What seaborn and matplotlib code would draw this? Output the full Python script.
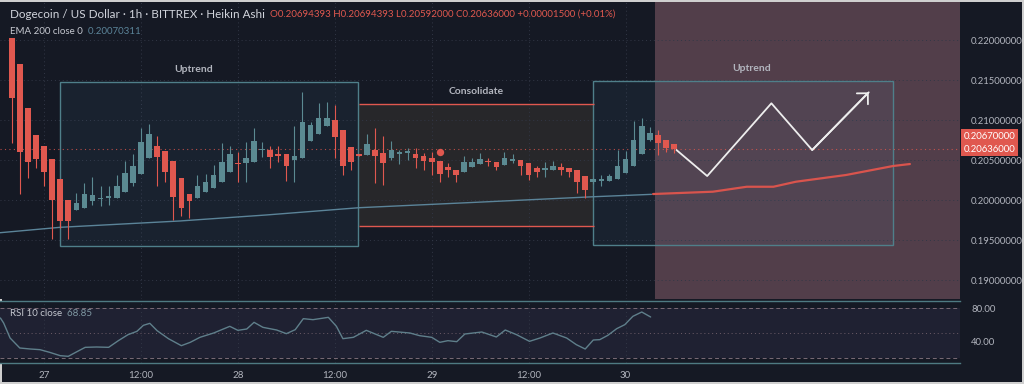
import numpy as np
import pandas as pd
import matplotlib
matplotlib.use("Agg")
import matplotlib.pyplot as plt
import matplotlib.transforms as mtransforms
from matplotlib.patches import Rectangle
import seaborn as sns

# --- data: one Heikin Ashi candle per hour, index 0 = 26th 20:00 ---
opens = [0.2203, 0.2170, 0.2115, 0.2081, 0.2067, 0.2051, 0.2026, 0.2000, 0.1987, 0.1990,
         0.1999, 0.2001, 0.2003, 0.2003, 0.2010, 0.2021, 0.2032, 0.2052, 0.2068, 0.2061,
         0.2049, 0.2027, 0.2008, 0.2003, 0.2010, 0.2015, 0.2023, 0.2035, 0.2046, 0.2046,
         0.2048, 0.2062, 0.2063, 0.2058, 0.2057, 0.2050, 0.2052, 0.2074, 0.2083, 0.2093,
         0.2100, 0.2088, 0.2066, 0.2058, 0.2056, 0.2063, 0.2059, 0.2052, 0.2058, 0.2059,
         0.2058, 0.2055, 0.2052, 0.2049, 0.2041, 0.2038, 0.2035, 0.2041, 0.2045, 0.2049,
         0.2047, 0.2044, 0.2049, 0.2050, 0.2046, 0.2040, 0.2038, 0.2038, 0.2041, 0.2040,
         0.2038, 0.2030, 0.2022, 0.2024, 0.2024, 0.2026, 0.2034, 0.2043, 0.2058, 0.2075,
         0.2081, 0.2075, 0.20694]
closes = [0.2127, 0.2060, 0.2048, 0.2051, 0.2035, 0.2000, 0.1974, 0.1974, 0.1996, 0.2007,
          0.2006, 0.2003, 0.2005, 0.2018, 0.2034, 0.2043, 0.2072, 0.2083, 0.2054, 0.2035,
          0.2004, 0.1990, 0.1999, 0.2017, 0.2022, 0.2031, 0.2047, 0.2057, 0.2045, 0.2052,
          0.2074, 0.2064, 0.2054, 0.2055, 0.2043, 0.2055, 0.2097, 0.2094, 0.2103, 0.2102,
          0.2079, 0.2043, 0.2047, 0.2055, 0.2070, 0.2055, 0.2046, 0.2063, 0.2060, 0.2061,
          0.2052, 0.2049, 0.2047, 0.2032, 0.2037, 0.2031, 0.2047, 0.2048, 0.2051, 0.2047,
          0.2041, 0.2053, 0.2051, 0.2043, 0.2031, 0.2035, 0.2040, 0.2043, 0.2038, 0.2035,
          0.2023, 0.2013, 0.2026, 0.2026, 0.2030, 0.2043, 0.2051, 0.2075, 0.2092, 0.2084,
          0.2071, 0.2065, 0.20636]
highs = [0.2203, 0.2170, 0.2115, 0.2081, 0.2067, 0.2051, 0.2026, 0.2000, 0.2009, 0.2021,
         0.2029, 0.2018, 0.2018, 0.2031, 0.2049, 0.2058, 0.2090, 0.2095, 0.2080, 0.2061,
         0.2049, 0.2027, 0.2008, 0.2031, 0.2033, 0.2044, 0.2071, 0.2068, 0.2060, 0.2073,
         0.2090, 0.2073, 0.2068, 0.2068, 0.2057, 0.2093, 0.2135, 0.2097, 0.2121, 0.2122,
         0.2119, 0.2088, 0.2066, 0.2058, 0.2083, 0.2090, 0.2080, 0.2074, 0.2063, 0.2065,
         0.2065, 0.2059, 0.2060, 0.2049, 0.2046, 0.2038, 0.2055, 0.2052, 0.2059, 0.2052,
         0.2047, 0.2060, 0.2058, 0.2050, 0.2046, 0.2043, 0.2048, 0.2049, 0.2046, 0.2040,
         0.2038, 0.2030, 0.2028, 0.2031, 0.2033, 0.2063, 0.2061, 0.2099, 0.2103, 0.2091,
         0.2088, 0.2075, 0.20694]
lows = [0.2071, 0.2008, 0.2027, 0.2040, 0.2017, 0.1951, 0.1965, 0.1951, 0.1987, 0.1990,
        0.1994, 0.1992, 0.1994, 0.2003, 0.2010, 0.2017, 0.2032, 0.2052, 0.2017, 0.2023,
        0.1975, 0.1980, 0.1978, 0.2003, 0.2010, 0.2015, 0.2023, 0.2035, 0.2023, 0.2023,
        0.2048, 0.2054, 0.2040, 0.2048, 0.2024, 0.2023, 0.2052, 0.2074, 0.2083, 0.2093,
        0.2052, 0.2031, 0.2037, 0.2055, 0.2056, 0.2021, 0.2019, 0.2050, 0.2045, 0.2050,
        0.2040, 0.2038, 0.2031, 0.2022, 0.2029, 0.2023, 0.2035, 0.2041, 0.2045, 0.2043,
        0.2038, 0.2044, 0.2046, 0.2031, 0.2025, 0.2029, 0.2029, 0.2038, 0.2031, 0.2029,
        0.2009, 0.2002, 0.2020, 0.2018, 0.2024, 0.2026, 0.2034, 0.2043, 0.2058, 0.2074,
        0.2056, 0.2060, 0.20592]

# EMA 200 (key points)
ema_x = [-1.5, 6, 20.8, 31.5, 43, 56.3, 72, 79.2]
ema_y = [0.19591, 0.19659, 0.19738, 0.19813, 0.19904, 0.19966, 0.20041, 0.20071]

# red projected line in the pink zone
proj_x = [79.4, 86.8, 91, 94.3, 97.1, 103.3, 109.1, 111.2]
proj_y = [0.20075, 0.20104, 0.20166, 0.20166, 0.20229, 0.20313, 0.20425, 0.2045]

# white zigzag drawing
zig_x = [82.3, 86.1, 94.05, 99.1, 106.1]
zig_y = [0.20625, 0.2030, 0.21209, 0.20625, 0.21346]

# rectangles
box_names = ["Uptrend", "Consolidate", "Uptrend"]
box_x0 = [6.0, 43.0, 72.0]
box_x1 = [42.9, 72.1, 109.1]
box_lo = [0.19425, 0.19675, 0.19438]
box_hi = [0.21479, 0.21196, 0.2149]
box_label_x = [22.5, 57.5, 91.6]

alert_x, alert_y = 53, 0.2060
zone_start = 79.6

# RSI 10
rsi_x = [-1.4, -1.0, -0.2, 1.0, 2.3, 3.5, 4.7, 6.0, 7.0, 8.0, 9.1,
         10.5, 12.0, 13.2, 14.4, 15.5, 16.3, 17.1, 18.0, 19.4, 21.0,
         22.1, 23.3, 25.0, 27.0, 28.0, 29.1, 30.0, 31.1, 32.8, 34.0,
         35.1, 36.1, 37.3, 39.2, 40.2, 41.0, 42.3, 43.9, 46.0, 47.0,
         49.3, 50.5, 52.0, 53.0, 54.0, 55.1, 56.1, 58.2, 60.0, 61.1,
         62.5, 64.1, 65.4, 67.0, 68.7, 69.9, 71.0, 72.0, 72.8, 73.8,
         74.9, 75.9, 76.9, 78.0, 79.1]
rsi_y = [68, 62, 44, 32, 30.8, 30, 26.8, 22.8, 22, 27.2, 32.8,
         33.2, 32.8, 40.8, 48, 52, 59.2, 61.6, 52.8, 43.2, 34.8,
         38.8, 44.8, 50, 58, 53.2, 54.8, 62.8, 56.8, 53.6, 49.2,
         54, 67.2, 66, 68.8, 58, 43.2, 44.8, 53.2, 44.8, 52,
         50, 46.8, 44.8, 38.8, 40.8, 39.6, 48.8, 51.2, 45.2, 53.6,
         48, 40, 44, 50, 44, 36, 30.8, 41.6, 42, 47.2,
         55.2, 60, 70, 75.2, 69.2]

day_ticks = [4, 16, 28, 40, 52, 64, 76]
day_labels = ["27", "12:00", "28", "12:00", "29", "12:00", "30"]
price_ticks = [0.19, 0.195, 0.20, 0.205, 0.21, 0.215, 0.22]
rsi_ticks = [40, 80]

# --- style ---
BG = "#151924"
TXT = "#b2b5be"
UP = "#5b8a92"
DOWN = "#e0584f"
GRID = "#323746"

sns.set_theme(style="dark", rc={"axes.facecolor": BG, "figure.facecolor": BG,
                                "savefig.facecolor": BG})
plt.rcParams["font.family"] = ["Lato", "DejaVu Sans"]

fig = plt.figure(figsize=(10.24, 3.84), dpi=100)
W, H = 1024, 384
ax = fig.add_axes([0, 1 - 299 / H, 960 / W, 297 / H])
rx = fig.add_axes([0, 1 - 363 / H, 960 / W, 62 / H], sharex=ax)

xmin, xmax = -1.45, 117.4
ax.set_xlim(xmin, xmax)
ax.set_ylim(0.18763, 0.22475)
rx.set_ylim(14.0, 88.4)

# pink forecast zone
ax.axvspan(zone_start, xmax, color="#523e4a", lw=0, zorder=0)

# grid
for t in day_ticks:
    ax.axvline(t, color=GRID, lw=0.7, ls=(0, (1, 3)), zorder=0.6)
    rx.axvline(t, color=GRID, lw=0.7, ls=(0, (1, 3)), zorder=0.6)
for p in price_ticks:
    ax.axhline(p, color=GRID, lw=0.7, ls=(0, (1, 3)), zorder=0.6)

# rectangles
for i in [1, 0, 2]:
    w = box_x1[i] - box_x0[i]
    h = box_hi[i] - box_lo[i]
    if box_names[i] == "Consolidate":
        ax.add_patch(Rectangle((box_x0[i], box_lo[i]), w, h, fc="#27272a",
                               ec="none", zorder=0.5))
        ax.hlines([box_lo[i], box_hi[i]], box_x0[i], box_x1[i], colors=DOWN,
                  lw=1.0, zorder=0.8)
    else:
        ax.add_patch(Rectangle((box_x0[i], box_lo[i]), w, h,
                               fc=(0.33, 0.55, 0.70, 0.08), ec="#4f7f8a",
                               lw=1.0, zorder=0.7))
    ax.annotate(box_names[i], xy=(box_label_x[i], box_hi[i]), xytext=(0, 9),
                textcoords="offset points", ha="center", va="center",
                color=TXT, fontsize=7.5, fontweight="bold", zorder=5)

# EMA + projection
sns.lineplot(x=ema_x, y=ema_y, ax=ax, color="#5b8499", lw=1.0, zorder=2)
sns.lineplot(x=proj_x, y=proj_y, ax=ax, color="#d9544d", lw=1.6, zorder=2)

# current price line
ax.axhline(closes[-1], color=DOWN, lw=0.8, ls=(0, (1, 3)), alpha=0.8, zorder=1.5)

# candles
df = pd.DataFrame({"o": opens, "h": highs, "l": lows, "c": closes})
df["x"] = np.arange(len(df))
df["col"] = np.where(df.c >= df.o, UP, DOWN)
ax.vlines(df.x, df.l, df.h, colors=df.col, lw=0.8, zorder=3)
body = np.maximum((df.c - df.o).abs(), 0.00008)
ax.bar(df.x, body, bottom=np.minimum(df.o, df.c), width=0.7, color=df.col,
       lw=0, zorder=3)
ax.scatter([alert_x], [alert_y], s=28, color=DOWN, zorder=4, lw=0)

# zigzag arrow
sns.lineplot(x=zig_x, y=zig_y, sort=False, ax=ax, color="#eeeeee", lw=1.3, zorder=4)
ax.annotate("", xy=(zig_x[-1], zig_y[-1]), xytext=(zig_x[-2], zig_y[-2]),
            arrowprops=dict(arrowstyle="->,head_length=0.35,head_width=0.35",
                            color="#eeeeee", lw=1.3, shrinkA=0, shrinkB=0,
                            mutation_scale=16), zorder=4)

# price axis
ax.yaxis.tick_right()
ax.set_yticks(price_ticks)
ax.set_yticklabels([f"{p:.8f}" for p in price_ticks])
ax.tick_params(axis="y", length=0, pad=8, labelsize=6.8, colors=TXT)
ax.tick_params(axis="x", length=0, labelbottom=False)
for s in ax.spines.values():
    s.set_visible(False)

tr = mtransforms.blended_transform_factory(ax.transAxes, ax.transData)
lab = dict(boxstyle="square,pad=0.3", fc=DOWN, ec="none")
ax.text(1.004, closes[-1], f"{closes[-1]:.8f}", transform=tr, ha="left", va="center",
        color="white", fontsize=6.8, bbox=lab, clip_on=False, zorder=6)
ax.annotate("0.20670000", xy=(1.004, closes[-1]), xycoords=tr, xytext=(0, 9),
            textcoords="offset points", ha="left", va="center", color="white",
            fontsize=6.8, bbox=lab, annotation_clip=False, zorder=6)

# RSI pane
rx.axhspan(20, 80, color="#1f2132", lw=0, zorder=0)
sns.lineplot(x=rsi_x, y=rsi_y, ax=rx, color="#5f7f8b", lw=1.0, zorder=3)
rx.axhline(80, color="#7a6b76", lw=0.7, ls=(0, (4, 3)), zorder=1)
rx.axhline(50, color="#6e5d68", lw=0.7, ls=(0, (1, 3)), zorder=1)
rx.axhline(20, color="#7a6b76", lw=0.7, ls=(0, (4, 3)), zorder=1)
rx.yaxis.tick_right()
rx.set_yticks(rsi_ticks)
rx.set_yticklabels([f"{v:.2f}" for v in rsi_ticks])
rx.set_xticks(day_ticks)
rx.set_xticklabels(day_labels)
rx.tick_params(axis="y", length=0, pad=8, labelsize=6.8, colors=TXT)
rx.tick_params(axis="x", length=0, pad=6, labelsize=7, colors=TXT)
for side in ["left", "right"]:
    rx.spines[side].set_visible(False)
for side in ["top", "bottom"]:
    rx.spines[side].set_color("#4e7a82")
    rx.spines[side].set_linewidth(1.0)

# header texts
t1 = fig.text(10 / W, 1 - 14 / H, "Dogecoin / US Dollar · 1h · BITTREX · Heikin Ashi",
              color="#d1d4dc", fontsize=8.4, va="center", ha="left")
ax.annotate("  O0.20694393 H0.20694393 L0.20592000 C0.20636000 +0.00001500 (+0.01%)",
            xy=(1, 0.5), xycoords=t1, va="center", ha="left", color=DOWN, fontsize=7)
t2 = fig.text(10 / W, 1 - 32 / H, "EMA 200 close 0", color="#c5c8d0", fontsize=7,
              va="center", ha="left")
ax.annotate("  0.20070311", xy=(1, 0.5), xycoords=t2, va="center", ha="left",
            color="#5b8499", fontsize=7)
t3 = fig.text(10 / W, 1 - 314 / H, "RSI 10 close", color="#c5c8d0", fontsize=7,
              va="center", ha="left")
rx.annotate("  68.85", xy=(1, 0.5), xycoords=t3, va="center", ha="left",
            color="#7f98a3", fontsize=7)

fig.patch.set_edgecolor("#cfcfcf")
fig.patch.set_linewidth(1.5)
fig.savefig("out.png", dpi=100)
